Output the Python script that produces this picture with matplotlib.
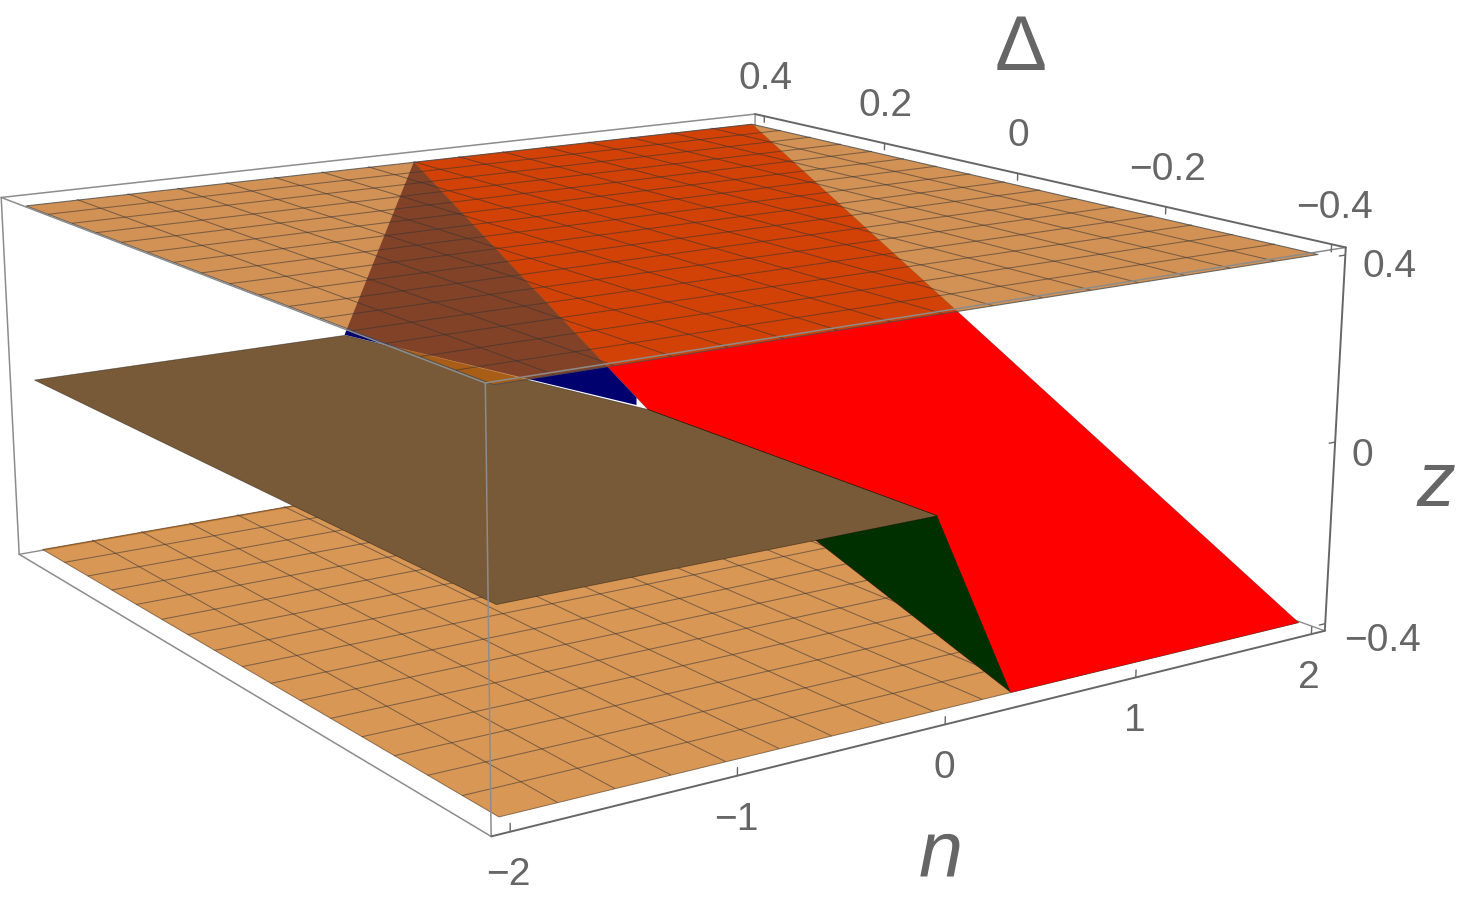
# -*- coding: utf-8 -*-
import numpy as np
import matplotlib
matplotlib.use('Agg')
import matplotlib.pyplot as plt
from mpl_toolkits.mplot3d.art3d import Poly3DCollection

plt.rcParams['font.family'] = ['Liberation Sans', 'DejaVu Sans']

W, H = 1457, 901

# plot box, data range plus 2 % padding
n_lim, d_lim, z_lim = 2.08, 0.416, 0.416

# the two flat sheets
sheet_n = [-2, 2, 2, -2]
sheet_d = [0.4, 0.4, -0.4, -0.4]
z_top, z_bottom = 0.4, -0.4
mesh_n = [-1.75, -1.5, -1.25, -1, -0.75, -0.5, -0.25, 0, 0.25, 0.5, 0.75, 1, 1.25, 1.5, 1.75]
mesh_d = [-0.35, -0.3, -0.25, -0.2, -0.15, -0.1, -0.05, 0, 0.05, 0.1, 0.15, 0.2, 0.25, 0.3, 0.35]

# brown sheet at z = 0
brown_n = [-2, -2, 0, 0, -0.4]
brown_d = [0.4, -0.4, -0.4, 0, 0.4]
brown_z = [0, 0, 0, 0, 0]

# red sheet
red_n = [0, 2, 2, 0.4, 0]
red_d = [0.4, 0.4, -0.4, -0.4, 0]
red_z = [0.4, 0.4, -0.4, -0.4, 0]

# blue sheet, stops just short of the origin
blue_n = [0, -0.4, 0, 0]
blue_d = [0.4, 0.4, 0.017, 0.017]
blue_z = [0.4, 0, 0, 0.017]

# green sheet
green_n = [0, 0, 0.4]
green_d = [0, -0.4, -0.4]
green_z = [0, 0, -0.4]

n_ticks = [-2, -1, 0, 1, 2]
d_ticks = [0.4, 0.2, 0, -0.2, -0.4]
z_ticks = [0.4, 0, -0.4]
n_labels = ['\u22122', '\u22121', '0', '1', '2']
d_labels = ['0.4', '0.2', '0', '\u22120.2', '\u22120.4']
z_labels = ['0.4', '0', '\u22120.4']

gray = '#666666'
thin_gray = '#8c8c8c'
mesh_col = (0.2, 0.2, 0.2, 0.55)

fig = plt.figure(figsize=(W / 100, H / 100), dpi=100)
# camera fitted to the box corners, axes rect is bigger than the figure on purpose
ax = fig.add_axes([-0.03483, -0.22875, 0.93305, 1.50882], projection='3d', computed_zorder=False)
ax.view_init(elev=14.3755, azim=-124.0685)
ax.set_proj_type('persp', focal_length=0.44035)
ax.set_box_aspect((1, 1.00061, 0.40054))
ax.set_axis_off()


def add_face(n, d, z, color, zorder, alpha=1.0, edge='none', lw=0.0):
    verts = [list(zip(n, d, z))]
    col = Poly3DCollection(verts, linewidths=lw, zorder=zorder)
    col.set_facecolor(matplotlib.colors.to_rgba(color, alpha))
    col.set_edgecolor(edge)
    col.set_clip_on(False)
    ax.add_collection3d(col)


def add_mesh(z, zorder):
    for nn in mesh_n:
        ax.plot([nn, nn], [-0.4, 0.4], [z, z], color=mesh_col, lw=0.75, zorder=zorder, clip_on=False)
    for dd in mesh_d:
        ax.plot([-2, 2], [dd, dd], [z, z], color=mesh_col, lw=0.75, zorder=zorder, clip_on=False)


def edge(p, q, color, lw, zorder):
    ax.plot([p[0], q[0]], [p[1], q[1]], [p[2], q[2]], color=color, lw=lw, zorder=zorder,
            solid_capstyle='round', clip_on=False)


# box edges behind everything
hidden = (n_lim, d_lim, -z_lim)
edge(hidden, (n_lim, d_lim, z_lim), thin_gray, 1.0, 1)
edge(hidden, (-n_lim, d_lim, -z_lim), thin_gray, 1.0, 1)
edge(hidden, (n_lim, -d_lim, -z_lim), thin_gray, 1.0, 1)

# painter order, back to front
add_face(sheet_n, sheet_d, [z_bottom] * 4, (201 / 255, 105 / 255, 10 / 255), 2, alpha=0.69, edge=(0.3, 0.2, 0.1, 0.6), lw=0.7)
add_mesh(z_bottom, 3)
add_face(red_n, red_d, red_z, (1, 0, 0), 4, edge=(0, 0, 0, 0.3), lw=0.5)
add_face(blue_n, blue_d, blue_z, (0, 0, 110 / 255), 5)
add_face(green_n, green_d, green_z, (0, 48 / 255, 0), 6)
add_face(brown_n, brown_d, brown_z, (120 / 255, 90 / 255, 56 / 255), 7, edge=(0, 0, 0, 0.4), lw=0.6)
add_face(sheet_n, sheet_d, [z_top] * 4, (190 / 255, 96 / 255, 9 / 255), 8, alpha=0.69, edge=(0.3, 0.3, 0.3, 0.8), lw=0.8)
add_mesh(z_top, 9)

# remaining box edges
edge((-n_lim, d_lim, z_lim), (n_lim, d_lim, z_lim), thin_gray, 1.1, 10)
edge((-n_lim, d_lim, z_lim), (-n_lim, -d_lim, z_lim), thin_gray, 1.1, 10)
edge((-n_lim, -d_lim, z_lim), (n_lim, -d_lim, z_lim), thin_gray, 1.1, 10)
edge((-n_lim, d_lim, z_lim), (-n_lim, d_lim, -z_lim), thin_gray, 1.1, 10)
edge((-n_lim, -d_lim, z_lim), (-n_lim, -d_lim, -z_lim), thin_gray, 1.1, 10)
edge((-n_lim, d_lim, -z_lim), (-n_lim, -d_lim, -z_lim), thin_gray, 1.1, 10)
edge((-n_lim, -d_lim, -z_lim), (n_lim, -d_lim, -z_lim), gray, 1.4, 10)
edge((n_lim, d_lim, z_lim), (n_lim, -d_lim, z_lim), gray, 1.4, 10)
edge((n_lim, -d_lim, z_lim), (n_lim, -d_lim, -z_lim), gray, 1.4, 10)

# ticks
for nn in n_ticks:
    edge((nn, -d_lim, -z_lim), (nn, -d_lim, -z_lim + 0.016), gray, 1.0, 10)
for dd in d_ticks:
    edge((n_lim, dd, z_lim), (n_lim, dd, z_lim - 0.016), gray, 1.0, 10)
for zz in z_ticks:
    edge((n_lim, -d_lim, zz), (n_lim - 0.035, -d_lim, zz), gray, 1.0, 10)

ax.set_xlim(-n_lim, n_lim)
ax.set_ylim(-d_lim, d_lim)
ax.set_zlim(-z_lim, z_lim)


def label(x, y, s, size=28, **kw):
    fig.text(x / W, 1 - y / H, s, fontsize=size, color=gray, ha='center', va='center', **kw)


for s, x, y in zip(n_labels, [508, 736, 944, 1135, 1309], [875, 820, 768, 721, 678]):
    label(x, y, s)
for s, x, y in zip(d_labels, [765, 886, 1018, 1168, 1335], [79, 106, 136, 170, 208]):
    label(x, y, s)
for s, x, y in zip(z_labels, [1390, 1362, 1382], [267, 456, 641]):
    label(x, y, s)
label(941, 856, 'n', size=57, style='italic')
label(1021, 50, '\u0394', size=56)
label(1436, 485, 'z', size=56, style='italic')

fig.savefig('out.png', dpi=100)
